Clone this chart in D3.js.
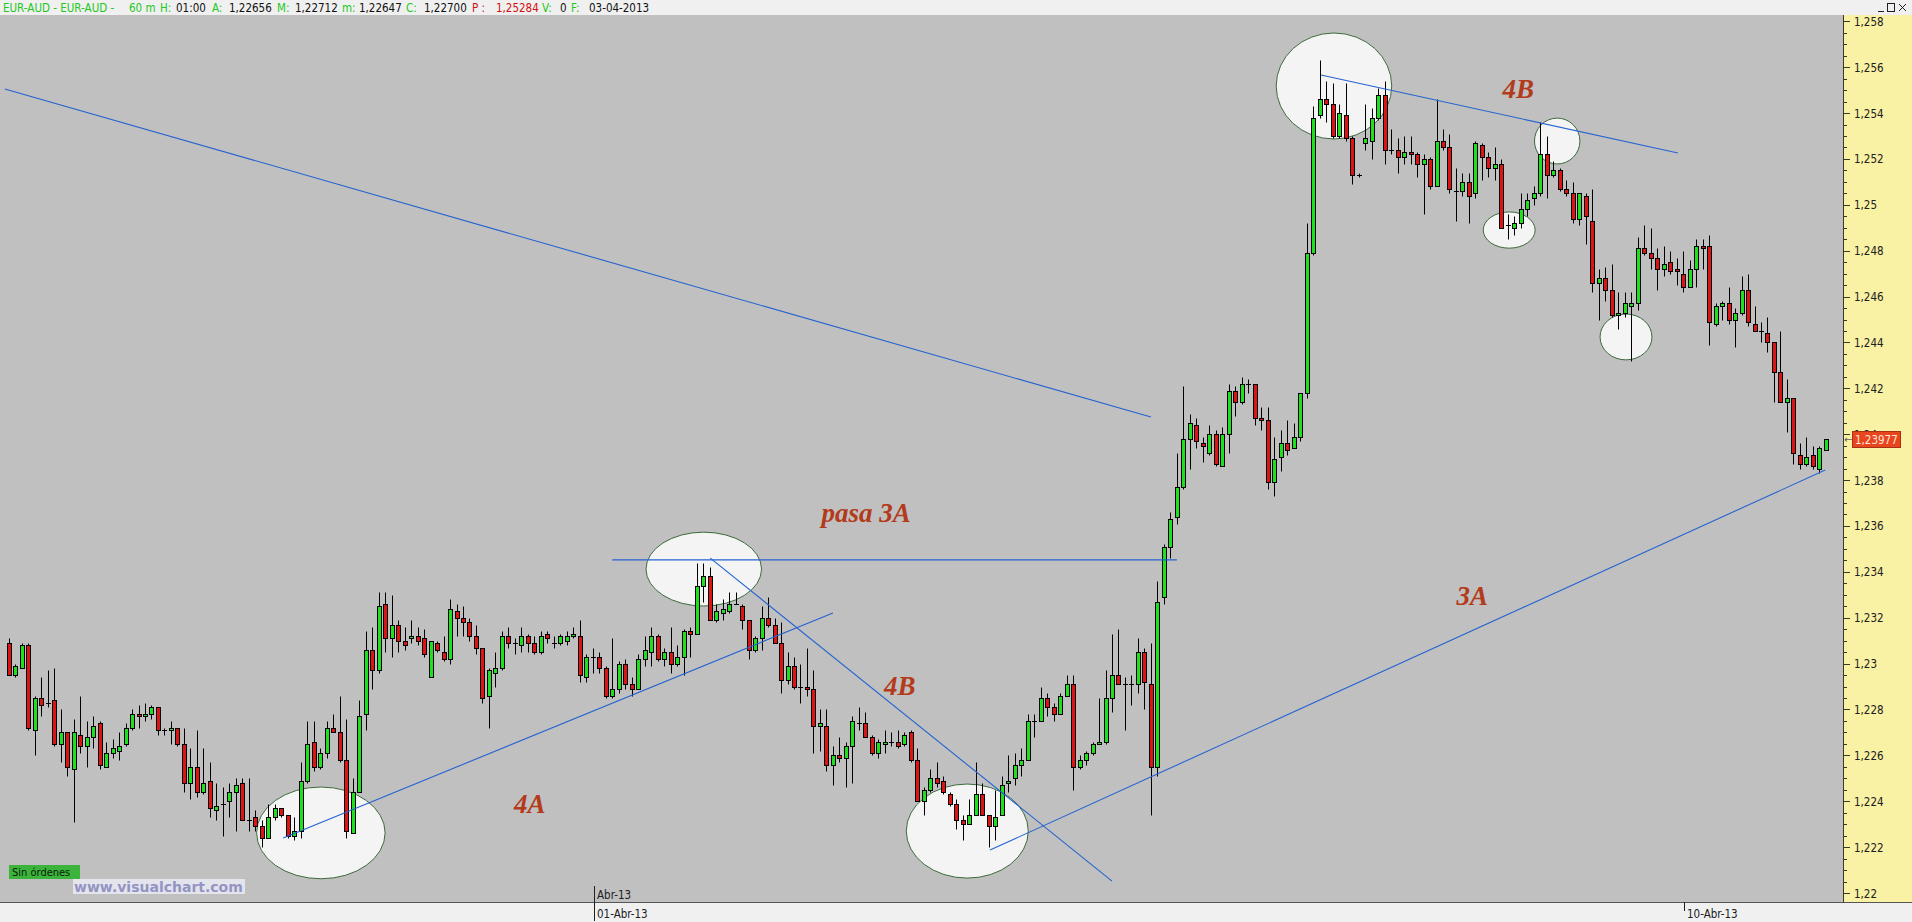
<!DOCTYPE html>
<html>
<head>
<meta charset="utf-8">
<script src="https://cdn.jsdelivr.net/npm/d3@7"></script>
<style>
  html, body { margin: 0; padding: 0; background: #f0f0f0; overflow: hidden; }
  svg { display: block; }
</style>
</head>
<body>
<svg id="chart" width="1912" height="922"></svg>
<script>
// EUR-AUD, 60 minute candles
const opens = [
1.2309,1.2295,1.2298,1.2308,1.2271,1.2285,1.2283,1.2284,1.2265,1.2270,
1.2254,1.2269,1.2264,1.2268,1.2274,1.2255,1.2261,1.2262,1.2265,1.2272,
1.2278,1.2277,1.2278,1.2281,1.2271,1.2271,1.2272,1.2265,1.2248,1.2255,
1.2244,1.2249,1.2236,1.2239,1.2240,1.2244,1.2248,1.2232,1.2233,1.2229,
1.2224,1.2233,1.2237,1.2234,1.2225,1.2227,1.2249,1.2266,1.2255,1.2261,
1.2272,1.2270,1.2258,1.2226,1.2244,1.2278,1.2306,1.2297,1.2326,1.2311,
1.2317,1.2310,1.2311,1.2312,1.2311,1.2294,1.2309,1.2305,1.2302,1.2323,
1.2320,1.2318,1.2312,1.2307,1.2286,1.2296,1.2298,1.2312,1.2309,1.2308,
1.2312,1.2309,1.2305,1.2313,1.2309,1.2309,1.2310,1.2312,1.2312,1.2294,
1.2303,1.2303,1.2298,1.2286,1.2289,1.2300,1.2291,1.2289,1.2302,1.2305,
1.2312,1.2302,1.2305,1.2300,1.2303,1.2314,1.2313,1.2334,1.2338,1.2319,
1.2322,1.2323,1.2326,1.2325,1.2319,1.2306,1.2311,1.2320,1.2317,1.2309,
1.2293,1.2299,1.2290,1.2290,1.2289,1.2273,1.2273,1.2256,1.2260,1.2259,
1.2264,1.2274,1.2274,1.2268,1.2261,1.2265,1.2266,1.2266,1.2265,1.2270,
1.2258,1.2240,1.2245,1.2250,1.2249,1.2243,1.2239,1.2232,1.2230,1.2234,
1.2243,1.2234,1.2229,1.2234,1.2248,1.2250,1.2256,1.2258,1.2275,1.2275,
1.2285,1.2281,1.2278,1.2286,1.2291,1.2255,1.2258,1.2261,1.2265,1.2266,
1.2285,1.2295,1.2291,1.2291,1.2291,1.2305,1.2291,1.2255,1.2329,1.2351,
1.2364,1.2377,1.2398,1.2404,1.2396,1.2392,1.2400,1.2386,1.2400,1.2419,
1.2414,1.2422,1.2422,1.2407,1.2406,1.2379,1.2390,1.2396,1.2394,1.2399,
1.2418,1.2479,1.2539,1.2546,1.2544,1.2530,1.2539,1.2529,1.2513,1.2527,
1.2528,1.2538,1.2548,1.2524,1.2524,1.2521,1.2523,1.2522,1.2518,1.2520,
1.2508,1.2528,1.2525,1.2506,1.2506,1.2510,1.2505,1.2526,1.2521,1.2516,
1.2518,1.2491,1.2490,1.2492,1.2498,1.2503,1.2505,1.2522,1.2513,1.2515,
1.2507,1.2505,1.2494,1.2504,1.2493,1.2466,1.2468,1.2463,1.2452,1.2453,
1.2456,1.2457,1.2481,1.2479,1.2477,1.2472,1.2475,1.2472,1.2470,1.2464,
1.2472,1.2482,1.2482,1.2448,1.2456,1.2457,1.2450,1.2453,1.2463,1.2448,
1.2445,1.2444,1.2440,1.2427,1.2414,1.2416,1.2391,1.2387,1.2391,1.2385,1.2393
];
const highs = [
1.2311,1.2300,1.2309,1.2309,1.2286,1.2294,1.2297,1.2298,1.2280,1.2270,
1.2276,1.2286,1.2275,1.2277,1.2275,1.2266,1.2267,1.2270,1.2274,1.2280,
1.2282,1.2283,1.2282,1.2281,1.2272,1.2275,1.2272,1.2272,1.2263,1.2271,
1.2263,1.2257,1.2248,1.2246,1.2248,1.2250,1.2250,1.2250,1.2236,1.2232,
1.2239,1.2239,1.2237,1.2234,1.2233,1.2257,1.2275,1.2275,1.2263,1.2275,
1.2278,1.2286,1.2276,1.2250,1.2284,1.2314,1.2316,1.2331,1.2331,1.2330,
1.2319,1.2316,1.2319,1.2316,1.2315,1.2310,1.2310,1.2312,1.2328,1.2326,
1.2325,1.2320,1.2317,1.2307,1.2298,1.2305,1.2314,1.2316,1.2311,1.2316,
1.2313,1.2312,1.2314,1.2314,1.2312,1.2313,1.2314,1.2316,1.2319,1.2304,
1.2307,1.2305,1.2299,1.2311,1.2301,1.2302,1.2294,1.2304,1.2312,1.2316,
1.2313,1.2307,1.2316,1.2308,1.2315,1.2316,1.2344,1.2344,1.2342,1.2326,
1.2328,1.2331,1.2331,1.2326,1.2319,1.2312,1.2325,1.2329,1.2320,1.2318,
1.2305,1.2303,1.2300,1.2307,1.2297,1.2280,1.2280,1.2264,1.2268,1.2266,
1.2277,1.2281,1.2279,1.2269,1.2267,1.2271,1.2270,1.2271,1.2270,1.2271,
1.2263,1.2246,1.2254,1.2257,1.2251,1.2244,1.2241,1.2234,1.2241,1.2257,
1.2248,1.2234,1.2245,1.2251,1.2260,1.2261,1.2263,1.2278,1.2278,1.2290,
1.2287,1.2283,1.2287,1.2295,1.2295,1.2260,1.2262,1.2266,1.2285,1.2297,
1.2313,1.2315,1.2294,1.2295,1.2311,1.2307,1.2309,1.2336,1.2352,1.2366,
1.2392,1.2421,1.2409,1.2407,1.2399,1.2404,1.2402,1.2403,1.2422,1.2421,
1.2425,1.2424,1.2422,1.2412,1.2412,1.2399,1.2402,1.2406,1.2405,1.2418,
1.2492,1.2543,1.2563,1.2554,1.2553,1.2544,1.2553,1.2530,1.2514,1.2544,
1.2542,1.2551,1.2554,1.2533,1.2529,1.2530,1.2530,1.2523,1.2522,1.2521,
1.2546,1.2533,1.2531,1.2516,1.2514,1.2514,1.2528,1.2527,1.2523,1.2525,
1.2520,1.2496,1.2495,1.2505,1.2505,1.2508,1.2536,1.2530,1.2519,1.2516,
1.2511,1.2510,1.2505,1.2505,1.2507,1.2472,1.2473,1.2474,1.2462,1.2462,
1.2462,1.2486,1.2491,1.2490,1.2481,1.2482,1.2480,1.2477,1.2480,1.2476,
1.2485,1.2485,1.2487,1.2457,1.2458,1.2464,1.2455,1.2469,1.2470,1.2456,
1.2449,1.2451,1.2440,1.2445,1.2424,1.2416,1.2396,1.2399,1.2395,1.2395,1.2398
];
const lows = [
1.2295,1.2294,1.2298,1.2271,1.2260,1.2277,1.2281,1.2264,1.2257,1.2251,
1.2231,1.2261,1.2255,1.2263,1.2254,1.2255,1.2259,1.2258,1.2264,1.2271,
1.2272,1.2275,1.2276,1.2269,1.2269,1.2265,1.2264,1.2244,1.2241,1.2242,
1.2243,1.2233,1.2232,1.2225,1.2233,1.2227,1.2232,1.2227,1.2227,1.2220,
1.2224,1.2232,1.2233,1.2224,1.2223,1.2224,1.2248,1.2253,1.2254,1.2259,
1.2270,1.2257,1.2224,1.2226,1.2244,1.2271,1.2289,1.2296,1.2305,1.2303,
1.2305,1.2306,1.2309,1.2308,1.2303,1.2294,1.2305,1.2301,1.2300,1.2312,
1.2312,1.2310,1.2304,1.2283,1.2272,1.2290,1.2297,1.2307,1.2304,1.2305,
1.2305,1.2304,1.2304,1.2309,1.2307,1.2308,1.2308,1.2311,1.2292,1.2292,
1.2296,1.2296,1.2285,1.2285,1.2287,1.2289,1.2286,1.2289,1.2299,1.2299,
1.2301,1.2299,1.2296,1.2299,1.2295,1.2303,1.2313,1.2327,1.2319,1.2318,
1.2319,1.2322,1.2326,1.2315,1.2302,1.2305,1.2306,1.2316,1.2309,1.2287,
1.2291,1.2289,1.2283,1.2286,1.2261,1.2262,1.2253,1.2247,1.2257,1.2246,
1.2248,1.2271,1.2268,1.2260,1.2259,1.2261,1.2264,1.2263,1.2264,1.2257,
1.2240,1.2234,1.2244,1.2246,1.2243,1.2238,1.2228,1.2223,1.2230,1.2234,
1.2234,1.2220,1.2223,1.2234,1.2244,1.2247,1.2251,1.2258,1.2268,1.2275,
1.2277,1.2275,1.2278,1.2286,1.2245,1.2254,1.2256,1.2260,1.2265,1.2265,
1.2279,1.2291,1.2271,1.2282,1.2287,1.2280,1.2234,1.2251,1.2326,1.2346,
1.2361,1.2376,1.2385,1.2394,1.2388,1.2391,1.2386,1.2386,1.2392,1.2408,
1.2413,1.2418,1.2404,1.2402,1.2376,1.2373,1.2384,1.2391,1.2394,1.2397,
1.2416,1.2478,1.2538,1.2536,1.2529,1.2529,1.2528,1.2509,1.2512,1.2524,
1.2520,1.2537,1.2518,1.2522,1.2514,1.2518,1.2518,1.2512,1.2496,1.2507,
1.2508,1.2524,1.2505,1.2493,1.2504,1.2492,1.2503,1.2511,1.2512,1.2511,
1.2490,1.2485,1.2487,1.2490,1.2495,1.2500,1.2504,1.2503,1.2512,1.2506,
1.2504,1.2492,1.2491,1.2483,1.2462,1.2450,1.2458,1.2451,1.2446,1.2451,
1.2432,1.2454,1.2478,1.2472,1.2463,1.2469,1.2470,1.2465,1.2462,1.2464,
1.2464,1.2472,1.2439,1.2447,1.2450,1.2448,1.2438,1.2452,1.2447,1.2445,
1.2440,1.2436,1.2414,1.2414,1.2401,1.2387,1.2385,1.2386,1.2385,1.2383,1.2393
];
const closes = [
1.2295,1.2299,1.2308,1.2272,1.2285,1.2282,1.2283,1.2265,1.2270,1.2255,
1.2270,1.2264,1.2268,1.2273,1.2256,1.2261,1.2263,1.2264,1.2272,1.2278,
1.2277,1.2278,1.2281,1.2271,1.2271,1.2272,1.2265,1.2248,1.2255,1.2244,
1.2248,1.2237,1.2238,1.2239,1.2244,1.2247,1.2232,1.2232,1.2229,1.2224,
1.2233,1.2237,1.2234,1.2225,1.2227,1.2249,1.2265,1.2255,1.2261,1.2272,
1.2270,1.2258,1.2227,1.2244,1.2277,1.2306,1.2297,1.2325,1.2311,1.2317,
1.2310,1.2308,1.2312,1.2310,1.2304,1.2310,1.2306,1.2302,1.2324,1.2320,
1.2318,1.2312,1.2307,1.2285,1.2297,1.2298,1.2312,1.2309,1.2309,1.2312,
1.2309,1.2305,1.2312,1.2311,1.2309,1.2312,1.2312,1.2313,1.2295,1.2303,
1.2303,1.2298,1.2286,1.2289,1.2300,1.2291,1.2289,1.2302,1.2306,1.2312,
1.2302,1.2305,1.2300,1.2303,1.2314,1.2313,1.2334,1.2338,1.2319,1.2323,
1.2324,1.2326,1.2326,1.2319,1.2306,1.2311,1.2320,1.2317,1.2309,1.2293,
1.2299,1.2290,1.2290,1.2289,1.2273,1.2274,1.2256,1.2260,1.2259,1.2264,
1.2275,1.2274,1.2268,1.2261,1.2266,1.2266,1.2266,1.2264,1.2269,1.2258,
1.2240,1.2245,1.2250,1.2248,1.2244,1.2239,1.2232,1.2230,1.2234,1.2243,
1.2234,1.2229,1.2233,1.2247,1.2249,1.2256,1.2258,1.2275,1.2275,1.2285,
1.2281,1.2278,1.2286,1.2291,1.2255,1.2258,1.2261,1.2265,1.2266,1.2285,
1.2295,1.2291,1.2291,1.2291,1.2305,1.2292,1.2255,1.2327,1.2351,1.2363,
1.2377,1.2398,1.2405,1.2397,1.2395,1.2400,1.2387,1.2400,1.2419,1.2414,
1.2422,1.2422,1.2407,1.2406,1.2379,1.2389,1.2396,1.2393,1.2399,1.2418,
1.2479,1.2538,1.2546,1.2544,1.2530,1.2540,1.2529,1.2513,1.2513,1.2529,
1.2538,1.2548,1.2524,1.2524,1.2521,1.2523,1.2522,1.2518,1.2520,1.2508,
1.2528,1.2525,1.2507,1.2506,1.2510,1.2504,1.2527,1.2521,1.2516,1.2518,
1.2490,1.2491,1.2492,1.2498,1.2502,1.2505,1.2522,1.2513,1.2515,1.2507,
1.2505,1.2494,1.2505,1.2495,1.2466,1.2468,1.2463,1.2452,1.2453,1.2457,
1.2457,1.2481,1.2479,1.2477,1.2472,1.2474,1.2471,1.2471,1.2464,1.2472,
1.2482,1.2481,1.2449,1.2456,1.2457,1.2450,1.2453,1.2463,1.2449,1.2445,
1.2445,1.2440,1.2427,1.2414,1.2416,1.2392,1.2387,1.2390,1.2386,1.2394,1.23977
];

// price axis labels and date markers (bar index)
const priceTicks = [1.220,1.222,1.224,1.226,1.228,1.230,1.232,1.234,1.236,1.238,
                    1.240,1.242,1.244,1.246,1.248,1.250,1.252,1.254,1.256,1.258];
const dateMarks = [
  { bar: 90,  month: "Abr-13", day: "01-Abr-13" },
  { bar: 258, month: "",       day: "10-Abr-13" }
];
const lastPrice = 1.23977;

// drawn studies, in (bar, price)
const trendLines = [
  [[-0.6, 1.25505], [176.0, 1.24075]],
  [[93.0, 1.23452], [180.0, 1.23452]],
  [[42.3, 1.22240], [127.0, 1.23221]],
  [[108.1, 1.23460], [170.0, 1.22052]],
  [[151.2, 1.22187], [279.9, 1.23844]],
  [[202.2, 1.25566], [257.2, 1.25226]]
];
const marks = [ // centre bar, centre price, radius in bars, radius in price
  [48.1, 1.22262, 9.9, 0.00200],
  [107.1, 1.23412, 8.9, 0.00161],
  [147.7, 1.22270, 9.4, 0.00205],
  [204.2, 1.25518, 8.9, 0.00231],
  [231.2, 1.24890, 4.0, 0.00079],
  [238.6, 1.25278, 3.5, 0.00100],
  [249.2, 1.24424, 4.0, 0.00100]
];
const notes = [
  ["pasa 3A", 132.1, 1.23657],
  ["4B", 137.3, 1.22902],
  ["4A", 80.3, 1.22388],
  ["3A", 225.5, 1.23295],
  ["4B", 232.6, 1.25505]
];

const W = 1912, H = 922;
const plot = { left: 0, right: 1843, top: 15, bottom: 902 };
const svg = d3.select("#chart");

const x = d3.scaleLinear().domain([0, opens.length - 1]).range([8.7, 8.7 + (opens.length - 1) * 6.49]);
const y = d3.scaleLinear().domain([1.22, 1.258]).range([893, 21.3]);
const fmt = v => String(+v.toFixed(5)).replace(".", ",");

// window chrome
svg.append("rect").attr("width", W).attr("height", H).attr("fill", "#f0f0f0");
svg.append("defs").append("clipPath").attr("id", "plotClip")
  .append("rect").attr("x", plot.left).attr("y", plot.top)
  .attr("width", plot.right - plot.left).attr("height", plot.bottom - plot.top);

// header line
const header = [
  ["EUR-AUD - EUR-AUD -", 3, "#22c822"], ["60 m", 129, "#22c822"], ["H:", 160, "#22c822"],
  ["01:00", 176, "#111"], ["A:", 212, "#22c822"], ["1,22656", 229, "#111"],
  ["M:", 277, "#22c822"], ["1,22712", 295, "#111"], ["m:", 342, "#22c822"],
  ["1,22647", 359, "#111"], ["C:", 406, "#22c822"], ["1,22700", 424, "#111"],
  ["P :", 472, "#d01010"], ["1,25284", 496, "#d01010"], ["V:", 542, "#22c822"],
  ["0", 560, "#111"], ["F:", 571, "#22c822"], ["03-04-2013", 589, "#111"]
];
svg.append("g").selectAll("text").data(header).join("text")
  .attr("x", d => d[1]).attr("y", 12)
  .attr("font-family", "DejaVu Sans Condensed, DejaVu Sans")
  .attr("font-size", 11.5).attr("fill", d => d[2]).text(d => d[0]);

// plot area
const g = svg.append("g").attr("clip-path", "url(#plotClip)");
g.append("rect").attr("x", plot.left).attr("y", plot.top)
  .attr("width", plot.right - plot.left).attr("height", plot.bottom - plot.top)
  .attr("fill", "#c0c0c0");

// highlighted zones
g.append("g").selectAll("ellipse").data(marks).join("ellipse")
  .attr("cx", d => x(d[0])).attr("cy", d => y(d[1]))
  .attr("rx", d => x(d[2]) - x(0)).attr("ry", d => y(1.22) - y(1.22 + d[3]))
  .attr("fill", "#f4f4f4").attr("stroke", "#3c6a3c").attr("stroke-width", 1);

// candles
const bars = d3.range(opens.length).map(i => ({
  i, o: opens[i], h: highs[i], l: lows[i], c: closes[i]
}));
const px = v => Math.round(v);
const cg = g.append("g");
cg.selectAll("line.wick").data(bars).join("line").attr("class", "wick")
  .attr("x1", d => px(x(d.i)) + 0.5).attr("x2", d => px(x(d.i)) + 0.5)
  .attr("y1", d => px(y(d.h)) + 0.5).attr("y2", d => px(y(d.l)) + 0.5)
  .attr("stroke", "#000").attr("stroke-width", 1);
cg.selectAll("g.body").data(bars).join(function (enter) {
  const s = enter.append("g").attr("class", "body");
  s.each(function (d) {
    const el = d3.select(this);
    const cx = px(x(d.i));
    const yo = px(y(d.o)), yc = px(y(d.c));
    if (yo === yc) {
      el.append("line").attr("x1", cx - 2).attr("x2", cx + 3)
        .attr("y1", yo + 0.5).attr("y2", yo + 0.5)
        .attr("stroke", "#000").attr("stroke-width", 1);
    } else {
      el.append("rect").attr("x", cx - 1.5).attr("width", 4)
        .attr("y", Math.min(yo, yc) + 0.5).attr("height", Math.abs(yo - yc))
        .attr("fill", d.c >= d.o ? "#1ee01e" : "#dc1414")
        .attr("stroke", "#000").attr("stroke-width", 1);
    }
  });
  return s;
});

// trend lines
g.append("g").selectAll("line").data(trendLines).join("line")
  .attr("x1", d => x(d[0][0])).attr("y1", d => y(d[0][1]))
  .attr("x2", d => x(d[1][0])).attr("y2", d => y(d[1][1]))
  .attr("stroke", "#2563d0").attr("stroke-width", 1.1);

// notes
g.append("g").selectAll("text").data(notes).join("text")
  .attr("x", d => x(d[1])).attr("y", d => y(d[2]) + 9)
  .attr("text-anchor", "middle")
  .attr("font-family", "Liberation Serif, Times New Roman, serif")
  .attr("font-weight", "bold").attr("font-style", "italic")
  .attr("font-size", 27).attr("fill", "#b33a1a").text(d => d[0]);

// order status and site tag
g.append("rect").attr("x", 9).attr("y", 865).attr("width", 71).attr("height", 14).attr("fill", "#3cb43c");
g.append("text").attr("x", 12).attr("y", 876).attr("font-family", "DejaVu Sans Condensed, DejaVu Sans")
  .attr("font-size", 11).attr("fill", "#0c200c").text("Sin órdenes");
g.append("rect").attr("x", 73).attr("y", 879).attr("width", 172).attr("height", 15).attr("fill", "#e4e4ec");
g.append("text").attr("x", 74).attr("y", 892).attr("font-family", "DejaVu Sans, Verdana, sans-serif")
  .attr("font-weight", "bold").attr("font-size", 14).attr("fill", "#9494c4").text("www.visualchart.com");

// month label inside plot
g.append("g").selectAll("text").data(dateMarks.filter(d => d.month)).join("text")
  .attr("x", d => px(x(d.bar)) + 4).attr("y", 899)
  .attr("font-family", "DejaVu Sans Condensed, DejaVu Sans").attr("font-size", 11.5)
  .attr("fill", "#202020").text(d => d.month);

// bottom strip
svg.append("line").attr("x1", 0).attr("x2", W).attr("y1", plot.bottom + 0.5).attr("y2", plot.bottom + 0.5)
  .attr("stroke", "#555").attr("stroke-width", 1);
const dm = svg.append("g").selectAll("g").data(dateMarks).join("g");
dm.append("line")
  .attr("x1", d => px(x(d.bar)) + 1.5).attr("x2", d => px(x(d.bar)) + 1.5)
  .attr("y1", d => d.month ? 886 : plot.bottom).attr("y2", d => d.month ? 921 : 911)
  .attr("stroke", "#202020").attr("stroke-width", 1);
dm.append("text").attr("x", d => px(x(d.bar)) + 4).attr("y", 918)
  .attr("font-family", "DejaVu Sans Condensed, DejaVu Sans").attr("font-size", 11.5)
  .attr("fill", "#202020").text(d => d.day);

// price axis
const ax = svg.append("g");
ax.append("rect").attr("x", plot.right).attr("y", plot.top).attr("width", W - plot.right)
  .attr("height", plot.bottom - plot.top).attr("fill", "#f9f1a4");
ax.append("line").attr("x1", plot.right + 0.5).attr("x2", plot.right + 0.5)
  .attr("y1", plot.top).attr("y2", plot.bottom).attr("stroke", "#3a3a2a");
const minor = d3.range(0, 77).map(k => 1.22 + k * 0.0005).filter(v => v <= 1.2581);
ax.selectAll("line.minor").data(minor).join("line").attr("class", "minor")
  .attr("x1", plot.right).attr("x2", d => plot.right + (Math.abs(Math.round(d * 500) - d * 500) < 1e-6 ? 7 : 4))
  .attr("y1", d => px(y(d)) + 0.5).attr("y2", d => px(y(d)) + 0.5)
  .attr("stroke", "#3a3a2a").attr("stroke-width", 1);
ax.selectAll("text.lbl").data(priceTicks).join("text").attr("class", "lbl")
  .attr("x", plot.right + 11).attr("y", d => y(d) + 4.5)
  .attr("font-family", "DejaVu Sans Condensed, DejaVu Sans").attr("font-size", 11.5)
  .attr("fill", "#202020").text(d => fmt(d));

// last price tag
const ly = y(lastPrice);
ax.append("text").attr("x", plot.right + 1).attr("y", ly + 4).attr("font-size", 10)
  .attr("font-family", "DejaVu Sans").attr("fill", "#606060").text("←");
ax.append("rect").attr("x", 1852.5).attr("y", px(ly) - 7.5).attr("width", 48).attr("height", 16)
  .attr("fill", "#e8461e").attr("stroke", "#a83014");
ax.append("text").attr("x", 1855).attr("y", px(ly) + 4.5)
  .attr("font-family", "DejaVu Sans Condensed, DejaVu Sans").attr("font-size", 11.5)
  .attr("fill", "#ffe4d8").text(fmt(lastPrice));

// window buttons
const wb = svg.append("g").attr("stroke", "#202020").attr("fill", "none").attr("stroke-width", 1);
wb.append("line").attr("x1", 1878).attr("x2", 1884).attr("y1", 11.5).attr("y2", 11.5);
wb.append("rect").attr("x", 1887.5).attr("y", 3.5).attr("width", 7).attr("height", 8);
wb.append("line").attr("x1", 1890.5).attr("x2", 1890.5).attr("y1", 3.5).attr("y2", 3.5);
wb.append("path").attr("d", "M1899,4 L1906,11 M1906,4 L1899,11");
</script>
</body>
</html>
